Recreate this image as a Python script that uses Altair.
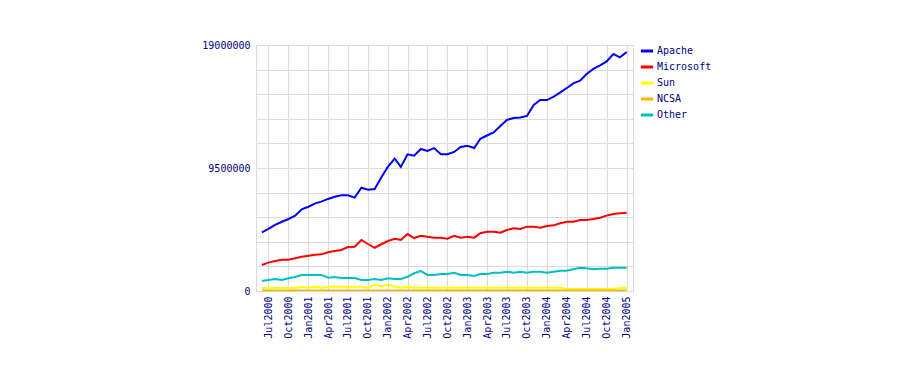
import altair as alt
import pandas as pd

# Monthly observations, Jun 2000 .. Jan 2005
months = pd.date_range("2000-06-01", "2005-01-01", freq="MS").strftime("%Y-%m-%d").tolist()

apache = [4.53, 4.79, 5.10, 5.35, 5.56, 5.82, 6.31, 6.51, 6.77, 6.90,
          7.11, 7.28, 7.39, 7.39, 7.21, 7.98, 7.82, 7.88, 8.77, 9.60,
          10.22, 9.58, 10.56, 10.45, 10.97, 10.81, 11.04, 10.56, 10.56, 10.74,
          11.12, 11.22, 11.04, 11.76, 12.01, 12.24, 12.74, 13.21, 13.36, 13.40,
          13.52, 14.37, 14.75, 14.75, 15.01, 15.32, 15.68, 16.04, 16.24, 16.76,
          17.15, 17.42, 17.73, 18.30, 18.05, 18.46]
microsoft = [2.01, 2.19, 2.32, 2.42, 2.42, 2.53, 2.65, 2.73, 2.80, 2.83,
             2.99, 3.09, 3.17, 3.40, 3.42, 3.94, 3.63, 3.34, 3.61, 3.86,
             4.04, 3.94, 4.40, 4.09, 4.27, 4.19, 4.12, 4.12, 4.04, 4.27,
             4.12, 4.19, 4.12, 4.46, 4.58, 4.58, 4.50, 4.71, 4.84, 4.79,
             4.97, 4.97, 4.89, 5.02, 5.07, 5.23, 5.35, 5.35, 5.48, 5.48,
             5.56, 5.66, 5.82, 5.95, 6.00, 6.05]
sun = [0.23, 0.23, 0.23, 0.23, 0.23, 0.23, 0.33, 0.25, 0.33, 0.25,
       0.30, 0.33, 0.33, 0.33, 0.33, 0.33, 0.25, 0.49, 0.35, 0.49,
       0.33, 0.25, 0.33, 0.25, 0.25, 0.25, 0.25, 0.25, 0.25, 0.25,
       0.25, 0.25, 0.25, 0.25, 0.25, 0.25, 0.25, 0.25, 0.25, 0.25,
       0.25, 0.25, 0.25, 0.25, 0.25, 0.25, 0.15, 0.15, 0.15, 0.15,
       0.15, 0.15, 0.15, 0.15, 0.23, 0.23]
ncsa = [0.04] * 56
other = [0.77, 0.85, 0.93, 0.85, 0.98, 1.08, 1.24, 1.24, 1.24, 1.24,
         1.03, 1.08, 1.00, 1.00, 1.00, 0.85, 0.85, 0.93, 0.85, 0.98,
         0.93, 0.93, 1.10, 1.37, 1.54, 1.24, 1.24, 1.31, 1.31, 1.41,
         1.24, 1.24, 1.16, 1.31, 1.31, 1.41, 1.41, 1.49, 1.41, 1.49,
         1.41, 1.49, 1.49, 1.41, 1.49, 1.57, 1.57, 1.68, 1.80, 1.75,
         1.68, 1.72, 1.72, 1.80, 1.80, 1.80]

series_names = ["Apache", "Microsoft", "Sun", "NCSA", "Other"]
series_colors = ["#0000ff", "#ff0000", "#ffff00", "#ffb400", "#00c0c0"]
series_values = [apache, microsoft, sun, ncsa, other]

tick_dates = ["2000-07-01", "2000-10-01", "2001-01-01", "2001-04-01", "2001-07-01",
              "2001-10-01", "2002-01-01", "2002-04-01", "2002-07-01", "2002-10-01",
              "2003-01-01", "2003-04-01", "2003-07-01", "2003-10-01", "2004-01-01",
              "2004-04-01", "2004-07-01", "2004-10-01", "2005-01-01"]
y_ticks = [0, 1900000, 3800000, 5700000, 7600000, 9500000, 11400000,
           13300000, 15200000, 17100000, 19000000]

rows = []
for name, vals in zip(series_names, series_values):
    for i, (m, v) in enumerate(zip(months, vals)):
        rows.append({"month": m, "servers": round(v * 1e6), "server": name,
                     "order": series_names.index(name)})
df = pd.DataFrame(rows)


def dt(s):
    y, mo, d = (int(p) for p in s.split("-"))
    return alt.DateTime(year=y, month=mo, date=d, utc=True)


FONT = "DejaVu Sans Mono"
NAVY = "#000080"
GRID = "#dadada"

chart = alt.Chart(df).mark_line(strokeWidth=2, clip=True).encode(
    x=alt.X("month:T",
            scale=alt.Scale(type="utc", domain=[dt("2000-05-05"), dt("2005-01-30")]),
            axis=alt.Axis(values=[dt(s) for s in tick_dates],
                          labelExpr="utcFormat(datum.value, '%b%Y')",
                          title=None, labelAngle=270,
                          labelAlign="right", labelBaseline="middle",
                          labelPadding=5, ticks=False, domain=False, grid=True,
                          gridColor=GRID, labelFont=FONT, labelFontSize=10,
                          labelColor=NAVY, labelOverlap=False, labelBound=False)),
    y=alt.Y("servers:Q",
            scale=alt.Scale(domain=[0, 19000000], nice=False, zero=True),
            axis=alt.Axis(values=y_ticks, title=None, ticks=False, domain=False,
                          grid=True, gridColor=GRID, labelPadding=6,
                          labelExpr="datum.value % 9500000 === 0 ? format(datum.value, 'd') : ''",
                          labelFont=FONT, labelFontSize=10, labelColor=NAVY,
                          labelOverlap=False)),
    color=alt.Color("server:N",
                    scale=alt.Scale(domain=series_names, range=series_colors),
                    legend=alt.Legend(title=None, orient="none", legendX=383,
                                      legendY=-2, symbolType="stroke",
                                      symbolStrokeWidth=3, symbolSize=150,
                                      labelFont=FONT, labelFontSize=10,
                                      labelColor=NAVY, labelOffset=2,
                                      rowPadding=2, padding=0)),
    order=alt.Order("order:Q"),
).properties(
    width=377, height=246,
    autosize=alt.AutoSizeParams(type="none"),
    padding={"left": 248, "top": 37, "right": 100, "bottom": 70},
    background="white",
).configure_view(stroke=GRID, strokeWidth=1)

chart.save("out.html", embed_options={"renderer": "svg", "actions": False})
